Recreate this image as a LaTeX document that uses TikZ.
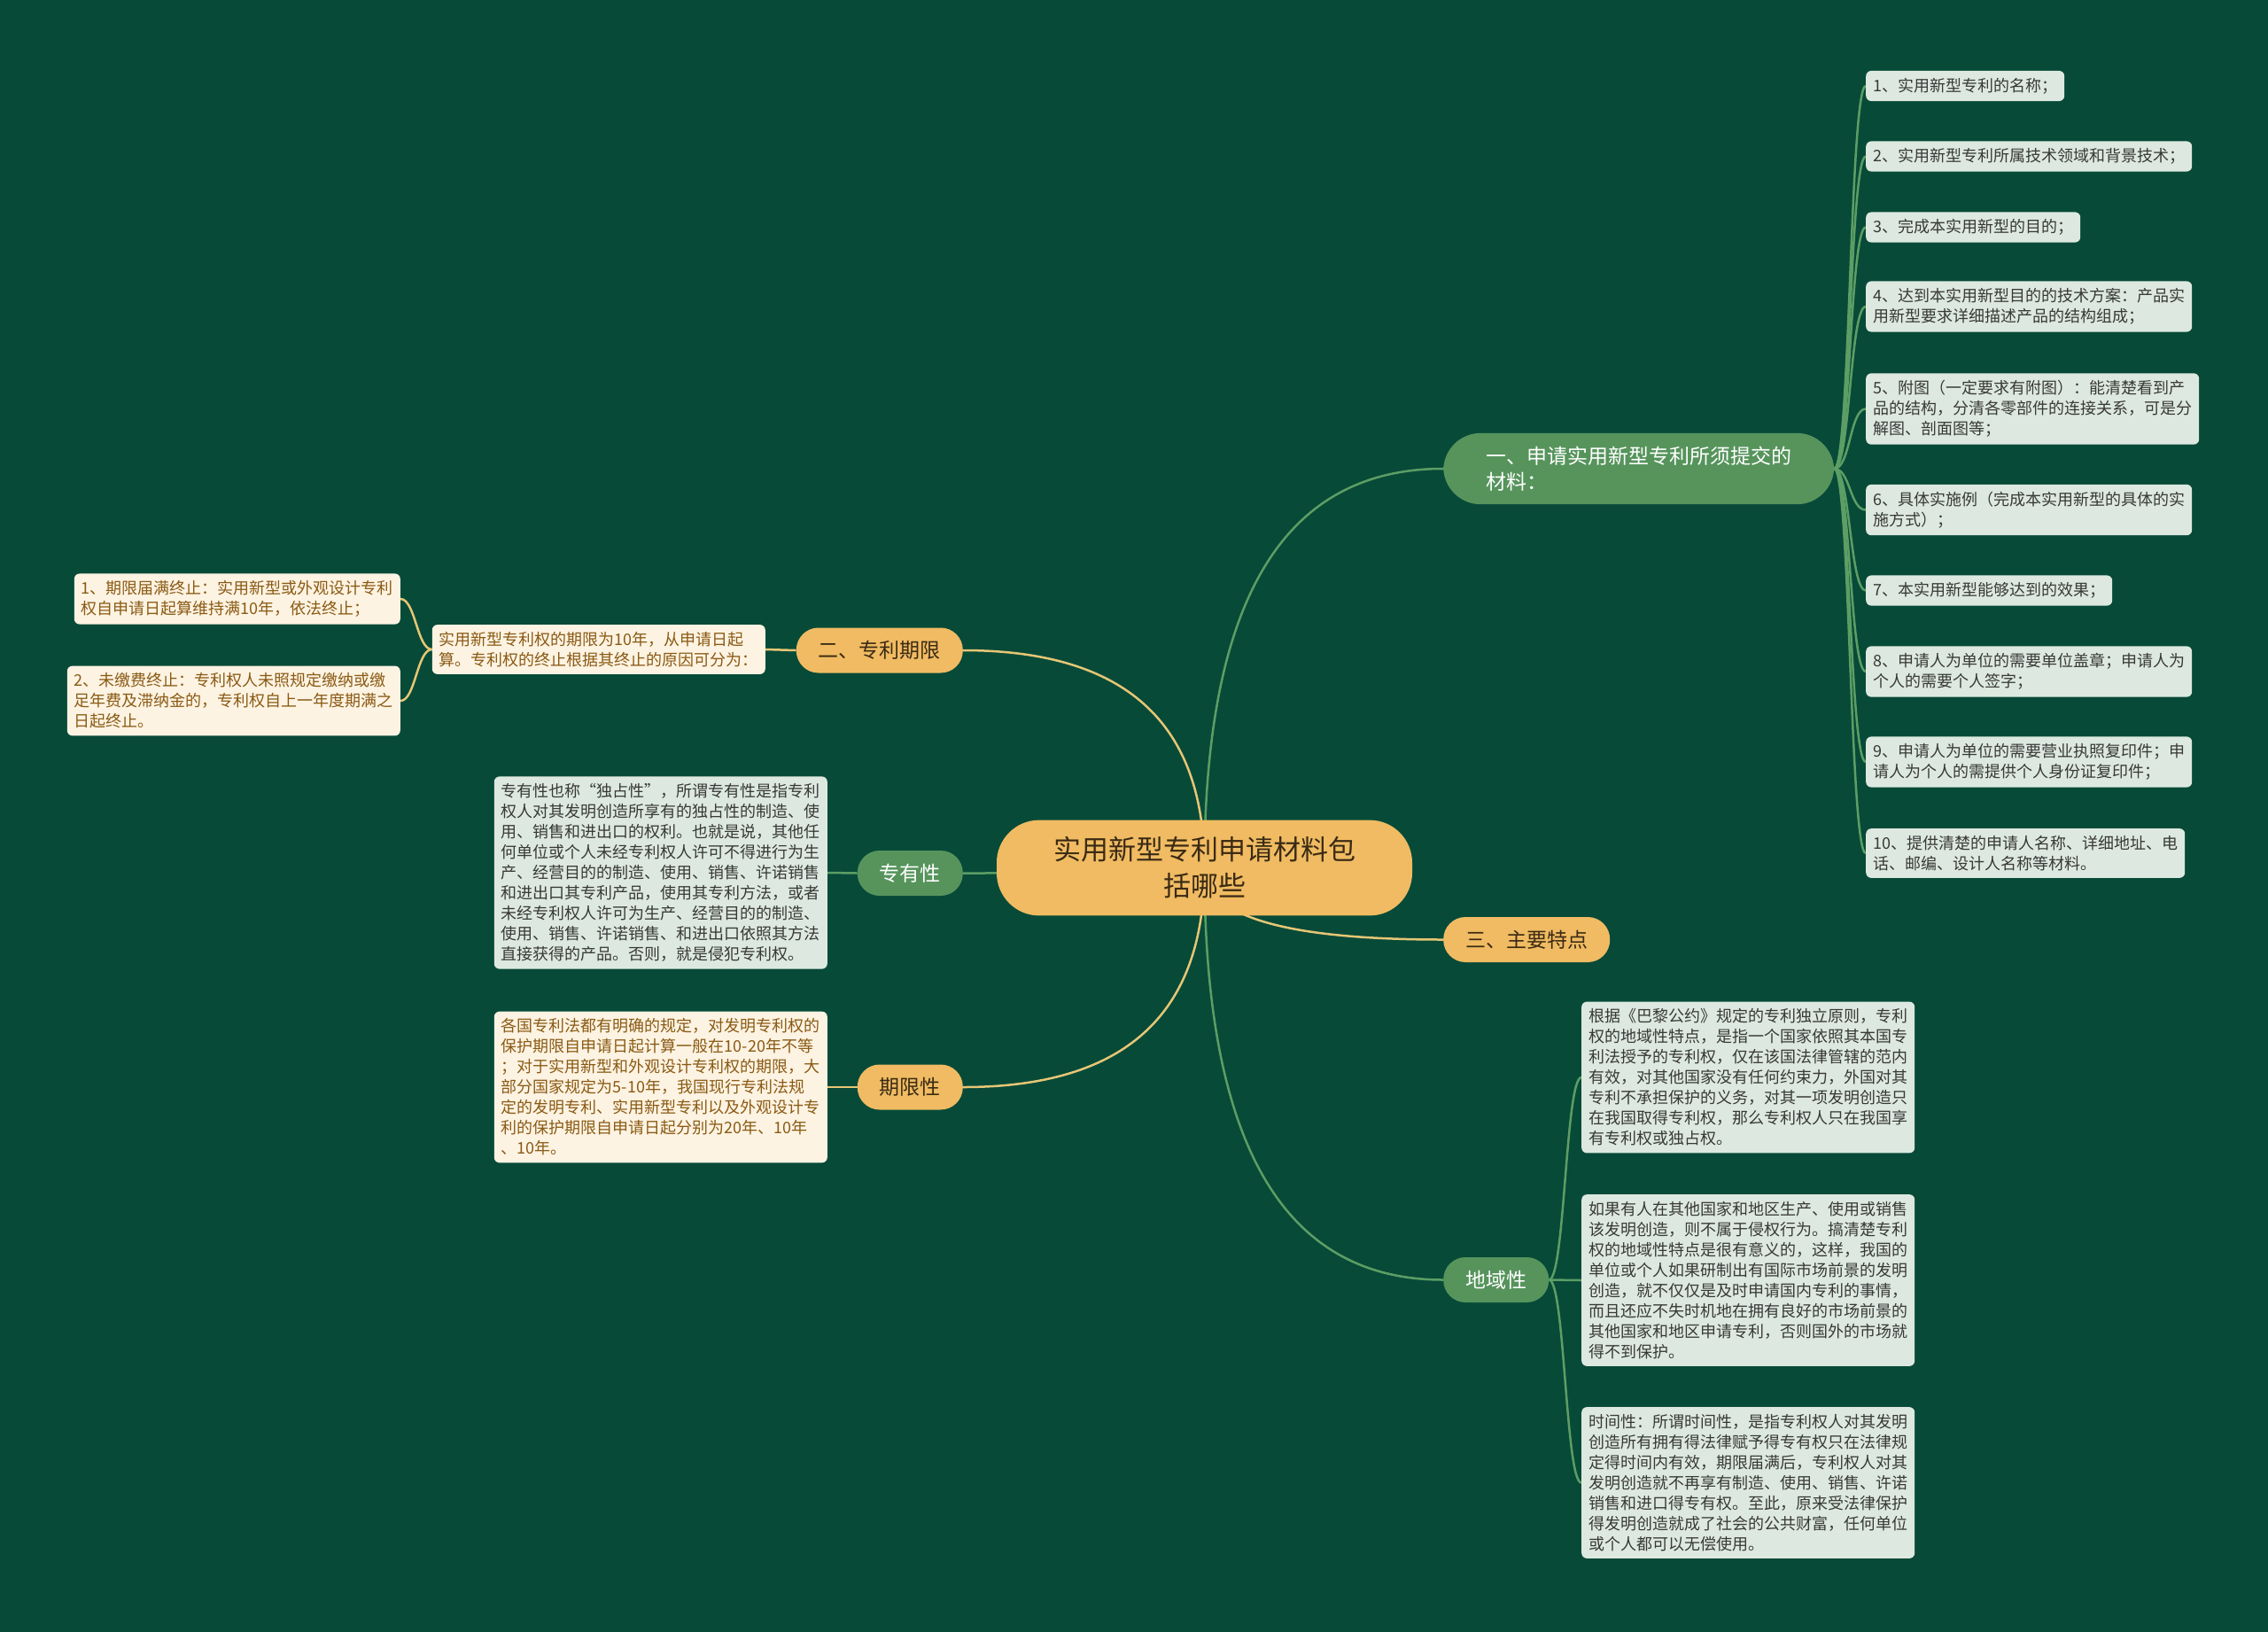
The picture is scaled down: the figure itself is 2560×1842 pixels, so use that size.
\documentclass[tikz,border=0pt]{standalone}
\usepackage{fontspec}
\setmainfont{Noto Sans CJK SC}
\usetikzlibrary{calc}
\definecolor{bgc}{HTML}{074A38}
\definecolor{orangec}{HTML}{F0BB62}
\definecolor{greenc}{HTML}{56945C}
\definecolor{leafg}{HTML}{DDE9E0}
\definecolor{leafy}{HTML}{FDF3E2}
\definecolor{browntext}{HTML}{8A5A14}
\definecolor{darktext}{HTML}{3A2A14}
\definecolor{linkg}{HTML}{5C9E64}
\definecolor{linky}{HTML}{E6C675}
\pgfdeclarelayer{back}
\pgfsetlayers{back,main}
\newcommand{\mmlink}[3]{\draw[#1] (#2.center) .. controls ($(#2.center)!.67!(#2.center |- #3)$) and ($(#3)!.67!(#2.center |- #3)$) .. (#3);}
\tikzset{
  rootnode/.style={fill=orangec,text=darktext,rounded corners=48pt,inner xsep=64pt,inner ysep=19pt,align=center,font=\fontsize{31}{41}\selectfont},
  pillo/.style={fill=orangec,text=darktext,rounded corners=25pt,inner xsep=25pt,inner ysep=0pt,minimum height=51pt,font=\fontsize{23}{29}\selectfont},
  pillg/.style={pillo,fill=greenc,text=white},
  leafgbox/.style={fill=leafg,text=black!78,rounded corners=6pt,inner sep=8pt,align=left,font=\fontsize{18}{23}\selectfont},
  leafybox/.style={leafgbox,fill=leafy,text=browntext},
  glink/.style={draw=linkg,line width=2.5pt},
  ylink/.style={draw=linky,line width=2.5pt}
}
\begin{document}
\begin{tikzpicture}[x=1pt,y=-1pt]
\useasboundingbox (0,0) rectangle (2560,1842);
\begin{pgfonlayer}{back}
\fill[bgc] (0,0) rectangle (2560,1842);
\end{pgfonlayer}
% root and main branches
\node[rootnode] (c) at (1359.5,979.5) {实用新型专利申请材料包\\括哪些};
\node[pillg,rounded corners=42pt,inner xsep=48pt,inner ysep=15pt,minimum height=0pt,align=left,anchor=west] (b1) at (1629,529) {一、申请实用新型专利所须提交的\\材料：};
\node[pillo,anchor=east] (b2) at (1087,734) {二、专利期限};
\node[pillg,anchor=east] (b3) at (1087,985.5) {专有性};
\node[pillo,anchor=east] (b4) at (1087,1227) {期限性};
\node[pillo,anchor=west] (b5) at (1629,1060.5) {三、主要特点};
\node[pillg,anchor=west] (b6) at (1629,1444.5) {地域性};
% materials list
\node[leafgbox,anchor=west] (r1) at (2106,97) {1、实用新型专利的名称；};
\node[leafgbox,anchor=west] (r2) at (2106,176.5) {2、实用新型专利所属技术领域和背景技术；};
\node[leafgbox,anchor=west] (r3) at (2106,256.5) {3、完成本实用新型的目的；};
\node[leafgbox,anchor=west] (r4) at (2106,346) {4、达到本实用新型目的的技术方案：产品实\\用新型要求详细描述产品的结构组成；};
\node[leafgbox,anchor=west] (r5) at (2106,461.5) {5、附图（一定要求有附图）：能清楚看到产\\品的结构，分清各零部件的连接关系，可是分\\解图、剖面图等；};
\node[leafgbox,anchor=west] (r6) at (2106,575.5) {6、具体实施例（完成本实用新型的具体的实\\施方式）；};
\node[leafgbox,anchor=west] (r7) at (2106,666.5) {7、本实用新型能够达到的效果；};
\node[leafgbox,anchor=west] (r8) at (2106,758) {8、申请人为单位的需要单位盖章；申请人为\\个人的需要个人签字；};
\node[leafgbox,anchor=west] (r9) at (2106,860) {9、申请人为单位的需要营业执照复印件；申\\请人为个人的需提供个人身份证复印件；};
\node[leafgbox,anchor=west] (r10) at (2106,963) {10、提供清楚的申请人名称、详细地址、电\\话、邮编、设计人名称等材料。};
% term of patent
\node[leafybox,anchor=east] (t1) at (864,733) {实用新型专利权的期限为10年，从申请日起\\算。专利权的终止根据其终止的原因可分为：};
\node[leafybox,anchor=east] (t2) at (452,676) {1、期限届满终止：实用新型或外观设计专利\\权自申请日起算维持满10年，依法终止；};
\node[leafybox,anchor=east] (t3) at (452,791) {2、未缴费终止：专利权人未照规定缴纳或缴\\足年费及滞纳金的，专利权自上一年度期满之\\日起终止。};
% exclusivity and time limit
\node[leafgbox,anchor=east] (s1) at (934,985) {专有性也称“独占性”，所谓专有性是指专利\\权人对其发明创造所享有的独占性的制造、使\\用、销售和进出口的权利。也就是说，其他任\\何单位或个人未经专利权人许可不得进行为生\\产、经营目的的制造、使用、销售、许诺销售\\和进出口其专利产品，使用其专利方法，或者\\未经专利权人许可为生产、经营目的的制造、\\使用、销售、许诺销售、和进出口依照其方法\\直接获得的产品。否则，就是侵犯专利权。};
\node[leafybox,anchor=east] (q1) at (934,1227) {各国专利法都有明确的规定，对发明专利权的\\保护期限自申请日起计算一般在10-20年不等\\；对于实用新型和外观设计专利权的期限，大\\部分国家规定为5-10年，我国现行专利法规\\定的发明专利、实用新型专利以及外观设计专\\利的保护期限自申请日起分别为20年、10年\\、10年。};
% territoriality
\node[leafgbox,anchor=west] (d1) at (1785,1216) {根据《巴黎公约》规定的专利独立原则，专利\\权的地域性特点，是指一个国家依照其本国专\\利法授予的专利权，仅在该国法律管辖的范内\\有效，对其他国家没有任何约束力，外国对其\\专利不承担保护的义务，对其一项发明创造只\\在我国取得专利权，那么专利权人只在我国享\\有专利权或独占权。};
\node[leafgbox,anchor=west] (d2) at (1785,1445) {如果有人在其他国家和地区生产、使用或销售\\该发明创造，则不属于侵权行为。搞清楚专利\\权的地域性特点是很有意义的，这样，我国的\\单位或个人如果研制出有国际市场前景的发明\\创造，就不仅仅是及时申请国内专利的事情，\\而且还应不失时机地在拥有良好的市场前景的\\其他国家和地区申请专利，否则国外的市场就\\得不到保护。};
\node[leafgbox,anchor=west] (d3) at (1785,1673.5) {时间性：所谓时间性，是指专利权人对其发明\\创造所有拥有得法律赋予得专有权只在法律规\\定得时间内有效，期限届满后，专利权人对其\\发明创造就不再享有制造、使用、销售、许诺\\销售和进口得专有权。至此，原来受法律保护\\得发明创造就成了社会的公共财富，任何单位\\或个人都可以无偿使用。};
% connectors
\begin{pgfonlayer}{back}
\mmlink{glink}{c}{b1.west}
\mmlink{ylink}{c}{b2.east}
\mmlink{glink}{c}{b3.east}
\mmlink{ylink}{c}{b4.east}
\mmlink{ylink}{c}{b5.west}
\mmlink{glink}{c}{b6.west}
\draw[ylink] (b2.west) -- (t1.east);
\draw[glink] (b3.west) -- (s1.east);
\draw[ylink] (b4.west) -- (q1.east);
\foreach \i in {1,...,10} \draw[glink] (b1.east) .. controls +(18,0) and +(-18,0) .. (r\i.west);
\foreach \i in {1,2,3} \draw[glink] (b6.east) .. controls +(18,0) and +(-18,0) .. (d\i.west);
\foreach \i in {2,3} \draw[ylink] (t1.west) .. controls +(-17,0) and +(17,0) .. (t\i.east);
\end{pgfonlayer}
\end{tikzpicture}
\end{document}
